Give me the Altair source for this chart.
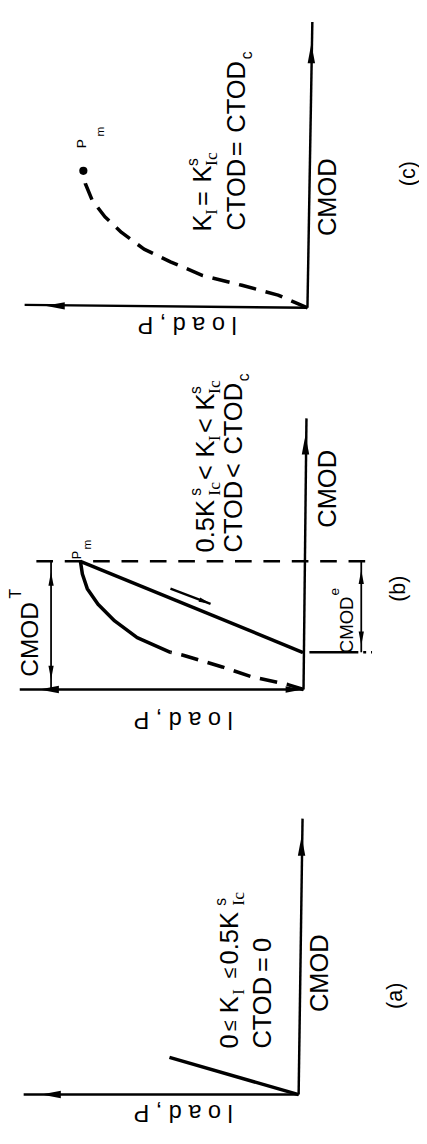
import altair as alt
import pandas as pd

# ---------------- data (panel coordinates: P = load, C = CMOD) ----------------
# panel (a)
A_AXIS_LOAD_P = [0, 281]
A_AXIS_LOAD_C = [0, 0]
A_AXIS_CMOD_P = [0, -4]
A_AXIS_CMOD_C = [0, 282]
A_CURVE_P = [0, 132]
A_CURVE_C = [0, 38]

# panel (b)
B_AXIS_LOAD_P = [0, 290]
B_AXIS_LOAD_C = [0, 0]
B_AXIS_CMOD_P = [0, -3]
B_AXIS_CMOD_C = [0, 277]
B_LOAD_DASH_P = [0, 16, 53, 83, 123, 136]
B_LOAD_DASH_C = [0, 5, 13, 23, 35, 38]
B_LOAD_SOLID_P = [136, 170, 193, 210, 221, 226, 228]
B_LOAD_SOLID_C = [38, 53, 70, 87, 103, 118, 131]
B_UNLOAD_P = [228, 1]
B_UNLOAD_C = [131, 38]
B_PMAX_LEVEL_P = [273, -70]
B_PMAX_LEVEL_C = [131, 131]
B_RESID_LEVEL_P = [2, -70]
B_RESID_LEVEL_C = [38, 38]
B_DIM_T_P = [258, 258]
B_DIM_T_C = [0, 131]
B_DIM_E_P = [-59, -59]
B_DIM_E_C = [38, 131]
B_DIR_P = [136, 95]
B_DIR_C = [103, 87.5]

# panel (c)
C_AXIS_LOAD_P = [0, 289]
C_AXIS_LOAD_C = [0, 3]
C_AXIS_CMOD_P = [0, -5]
C_AXIS_CMOD_C = [0, 292]
C_CURVE_P = [0, 7, 30, 67, 107, 140, 167, 190, 207, 220, 227, 229]
C_CURVE_C = [0, 3, 13, 23, 33, 47, 60, 77, 93, 110, 127, 140]
C_PMAX_P = [229]
C_PMAX_C = [140]

# arrowheads
ARR_PANEL = ["a", "a", "b", "b", "b", "b", "b", "b", "b", "b", "c", "c"]
ARR_P = [263, -3, 270, 1, -2, 258, 258, -59, -59, 95, 268, -4]
ARR_C = [0, 264, 0, 0, 260, 120, 10, 122, 45, 87.5, 2, 270]
ARR_ANGLE = [180, 270, 180, 0, 270, 270, 90, 270, 90, 21, 180, 270]
ARR_SIZE = [400, 400, 400, 300, 400, 200, 200, 200, 200, 150, 400, 400]

# rotated, left-aligned text pieces (kind: s = sans, r = serif subscript)
TXT_PANEL = ["a", "a", "a", "a", "a", "a", "a", "a", "a",
             "b", "b", "b", "b", "b", "b", "b", "b", "b", "b",
             "b", "b", "b", "b",
             "b", "b", "b", "b", "b", "b",
             "c", "c", "c", "c", "c", "c",
             "c", "c", "c", "c",
             "c", "c"]
TXT_STR = ["0", "≤", "K", "I", "≤", "0.5K", "s", "Ic", "CTOD\u2009=\u20090",
           "0.5K", "s", "Ic", "<", "K", "I", "<", "K", "s", "Ic",
           "CTOD", "<", "CTOD", "c",
           "CMOD", "T", "CMOD", "e", "P", "m",
           "K", "I", "=", "K", "s", "Ic",
           "CTOD", "=", "CTOD", "c",
           "P", "m"]
TXT_P = [70, 70, 70, 61, 70, 70, 79, 61, 36,
         100, 110, 90, 100, 100, 90, 100, 100, 110, 90,
         71, 71, 71, 61,
         279, 294, -45, -32, 231, 221,
         107, 97, 107, 107, 117, 97,
         72, 72, 72, 62,
         230, 212]
TXT_C = [47, 65, 83, 102, 119, 133, 193, 193, 47,
         140, 198, 198, 214, 237, 254, 262, 285, 302, 302,
         140, 216, 240, 315,
         13, 93, 37, 96, 133, 143,
         78, 95, 104, 128, 145, 145,
         79, 155, 179, 254,
         163, 175]
TXT_SIZE = [26, 20, 26, 17, 20, 26, 16, 18, 26,
            26, 16, 18, 26, 26, 17, 26, 26, 16, 18,
            26, 26, 26, 16,
            25, 16, 19, 14, 13, 12,
            26, 17, 26, 26, 16, 18,
            26, 26, 26, 16,
            14, 12]
TXT_KIND = ["s", "s", "s", "r", "s", "s", "s", "r", "s",
            "s", "s", "r", "s", "s", "r", "s", "s", "s", "r",
            "s", "s", "s", "s",
            "s", "s", "s", "s", "s", "s",
            "s", "r", "s", "s", "s", "r",
            "s", "s", "s", "s",
            "s", "s"]

# rotated centred labels
LAB_PANEL = ["a", "a", "b", "b", "c", "c"]
LAB_STR = ["CMOD", "(a)", "CMOD", "(b)", "CMOD", "(c)"]
LAB_P = [-22, -99, -25, -97, -21, -103]
LAB_C = [124, 101, 205, 103, 113, 137]
LAB_SIZE = [26, 22, 26, 22, 26, 22]

# upside-down load-axis labels
LOAD_PANEL = ["a", "b", "c"]
LOAD_STR = ["l o a d ,  P", "l o a d ,  P", "l o a d ,  P"]
LOAD_P = [118, 123, 123]
LOAD_C = [-18, -30, -16]

# ---------------- build tables ----------------
LINE_SPECS = [
    ("a", "axis", A_AXIS_LOAD_P, A_AXIS_LOAD_C),
    ("a", "axis", A_AXIS_CMOD_P, A_AXIS_CMOD_C),
    ("a", "curve", A_CURVE_P, A_CURVE_C),
    ("b", "axis", B_AXIS_LOAD_P, B_AXIS_LOAD_C),
    ("b", "axis", B_AXIS_CMOD_P, B_AXIS_CMOD_C),
    ("b", "dash", B_LOAD_DASH_P, B_LOAD_DASH_C),
    ("b", "curve", B_LOAD_SOLID_P, B_LOAD_SOLID_C),
    ("b", "curve", B_UNLOAD_P, B_UNLOAD_C),
    ("b", "level", B_PMAX_LEVEL_P, B_PMAX_LEVEL_C),
    ("b", "dashdot", B_RESID_LEVEL_P, B_RESID_LEVEL_C),
    ("b", "dim", B_DIM_T_P, B_DIM_T_C),
    ("b", "dim", B_DIM_E_P, B_DIM_E_C),
    ("b", "thin", B_DIR_P, B_DIR_C),
    ("c", "axis", C_AXIS_LOAD_P, C_AXIS_LOAD_C),
    ("c", "axis", C_AXIS_CMOD_P, C_AXIS_CMOD_C),
    ("c", "dash", C_CURVE_P, C_CURVE_C),
]
rows = []
for k, (pan, sty, ps, cs) in enumerate(LINE_SPECS):
    for i, (p, c) in enumerate(zip(ps, cs)):
        rows.append(dict(panel=pan, sty=sty, seg=k, i=i, P=p, C=c))
lines = pd.DataFrame(rows)

arrows = pd.DataFrame(dict(panel=ARR_PANEL, P=ARR_P, C=ARR_C, ang=ARR_ANGLE, sz=ARR_SIZE))
texts = pd.DataFrame(dict(panel=TXT_PANEL, t=TXT_STR, P=TXT_P, C=TXT_C, sz=TXT_SIZE, kind=TXT_KIND))
labels = pd.DataFrame(dict(panel=LAB_PANEL, t=LAB_STR, P=LAB_P, C=LAB_C, sz=LAB_SIZE))
loads = pd.DataFrame(dict(panel=LOAD_PANEL, t=LOAD_STR, P=LOAD_P, C=LOAD_C))
pmax = pd.DataFrame(dict(P=C_PMAX_P, C=C_PMAX_C))

STYLES = {
    "axis": (2.5, None),
    "curve": (3.6, None),
    "dash": (3.6, [18, 10]),
    "level": (2.6, [17, 12]),
    "dashdot": (2.4, [3, 5, 50, 5]),
    "dim": (1.8, None),
    "thin": (2.4, None),
}
ARROW = "M0,0L-2,-0.38L-2,0.38Z"

GEOM = {
    "c": dict(ox=307, oy=300, top=8, h=364),
    "b": dict(ox=303, oy=690, top=372, h=380),
    "a": dict(ox=298, oy=1104, top=752, h=384),
}
W = 411
SANS = "Liberation Sans"
SERIF = "Liberation Serif"


def panel(key):
    g = GEOM[key]
    xs = alt.Scale(domain=[g["ox"] - 8 - W, g["ox"] - 8], reverse=True, nice=False, zero=False)
    ys = alt.Scale(domain=[g["oy"] - g["top"] - g["h"], g["oy"] - g["top"]], nice=False, zero=False)
    X = alt.X("P:Q", scale=xs, axis=None)
    Y = alt.Y("C:Q", scale=ys, axis=None)
    layers = []
    ln = lines[lines["panel"] == key]
    for sty, (w, dash) in STYLES.items():
        d = ln[ln["sty"] == sty]
        if len(d) == 0:
            continue
        kw = dict(color="black", strokeWidth=w, strokeCap="butt", strokeJoin="round")
        if dash:
            kw["strokeDash"] = dash
        layers.append(alt.Chart(d).mark_line(**kw).encode(
            x=X, y=Y, detail="seg:N", order="i:Q"))
    d = arrows[arrows["panel"] == key]
    layers.append(alt.Chart(d).mark_point(shape=ARROW, filled=True, color="black",
                                          strokeWidth=0, opacity=1).encode(
        x=X, y=Y, angle=alt.Angle("ang:Q", scale=None), size=alt.Size("sz:Q", scale=None)))
    if key == "c":
        layers.append(alt.Chart(pmax).mark_circle(color="black", opacity=1, size=70).encode(x=X, y=Y))
    for kind, font in (("s", SANS), ("r", SERIF)):
        d = texts[(texts["panel"] == key) & (texts["kind"] == kind)]
        if len(d):
            layers.append(alt.Chart(d).mark_text(angle=270, align="left", baseline="middle",
                                                 font=font, color="black").encode(
                x=X, y=Y, text=alt.Text("t:N"), size=alt.Size("sz:Q", scale=None)))
    d = labels[labels["panel"] == key]
    layers.append(alt.Chart(d).mark_text(angle=270, align="center", baseline="middle",
                                         font=SANS, color="black").encode(
        x=X, y=Y, text=alt.Text("t:N"), size=alt.Size("sz:Q", scale=None)))
    d = loads[loads["panel"] == key]
    layers.append(alt.Chart(d).mark_text(angle=180, align="center", baseline="middle",
                                         font=SANS, fontSize=24, color="black").encode(
        x=X, y=Y, text=alt.Text("t:N")))
    return alt.layer(*layers).properties(width=W, height=g["h"])


chart = alt.vconcat(panel("c"), panel("b"), panel("a"), spacing=0, bounds="flush").properties(
    padding=0, background="white").configure_view(stroke=None)

chart.save("out.html", embed_options={"renderer": "svg", "actions": False})
